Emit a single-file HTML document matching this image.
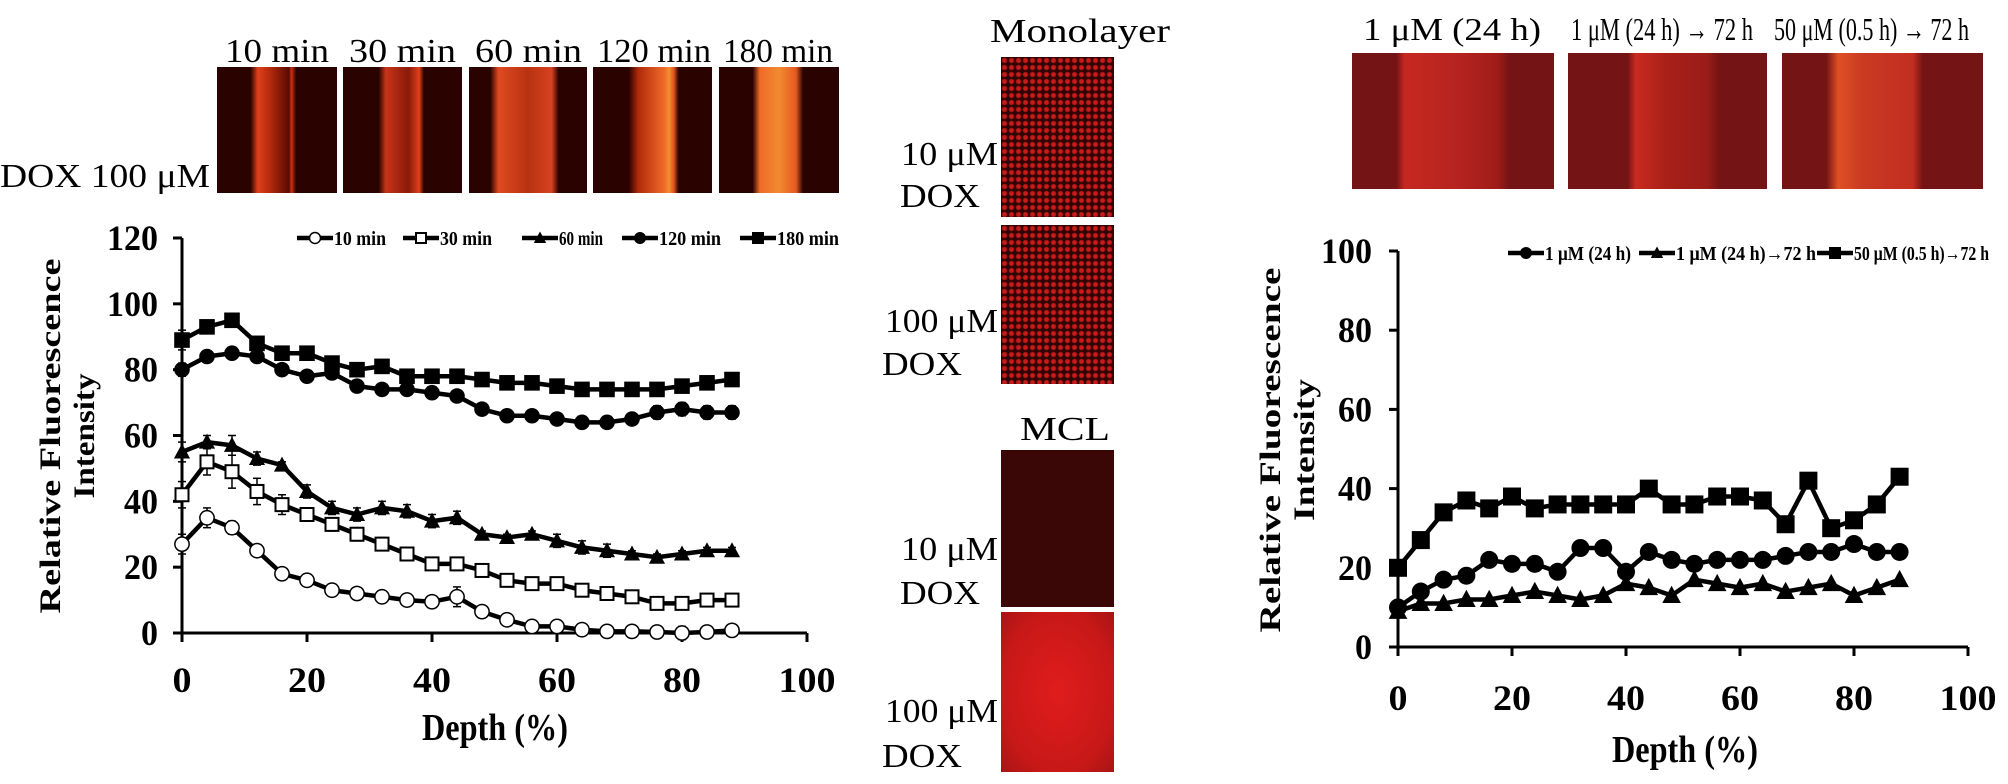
<!DOCTYPE html>
<html><head><meta charset="utf-8"><style>
html,body{margin:0;padding:0;background:#fff;}
#root{position:relative;width:2008px;height:784px;overflow:hidden;background:#fff;}
.img{position:absolute;}
</style></head><body>
<div id="root">
<div class="img" style="left:217px;top:67px;width:120px;height:126px;background:linear-gradient(90deg,#2a0300 0,#2a0300 28%,#e0401a 34%,#b0280c 45%,#5a0a02 60%,#d03010 62%,#2a0300 66%,#2a0300 100%)"></div>
<div class="img" style="left:343px;top:67px;width:119px;height:126px;background:linear-gradient(90deg,#2a0300 0,#2a0300 30%,#c8341a 36%,#8a1a08 55%,#e0401a 64%,#2a0300 68%,#2a0300 100%)"></div>
<div class="img" style="left:469px;top:67px;width:118px;height:126px;background:linear-gradient(90deg,#2a0300 0,#2a0300 18%,#e04a20 25%,#b83210 50%,#d84220 70%,#2a0300 76%,#2a0300 100%)"></div>
<div class="img" style="left:593px;top:67px;width:119px;height:126px;background:linear-gradient(90deg,#2a0300 0,#2a0300 30%,#b02a0c 38%,#f06a28 60%,#f09030 64%,#e05020 68%,#2a0300 72%,#2a0300 100%)"></div>
<div class="img" style="left:719px;top:67px;width:120px;height:126px;background:linear-gradient(90deg,#2a0300 0,#2a0300 28%,#f06a28 34%,#f08a30 50%,#e85a20 64%,#2a0300 70%,#2a0300 100%)"></div>
<div class="img" style="left:1001px;top:57px;width:113px;height:160px;background:radial-gradient(circle,#d02020 0,#c01818 40%,#300404 62%) 0 0/7px 7px,#300404"></div>
<div class="img" style="left:1001px;top:225px;width:113px;height:159px;background:radial-gradient(circle,#d02020 0,#c01818 40%,#300404 62%) 0 0/7px 7px,#300404"></div>
<div class="img" style="left:1001px;top:450px;width:113px;height:157px;background:#3a0606"></div>
<div class="img" style="left:1001px;top:612px;width:113px;height:160px;background:radial-gradient(ellipse at 50% 50%,#e01c1c 0,#c81818 70%,#a81414 100%)"></div>
<div class="img" style="left:1352px;top:53px;width:202px;height:136px;background:linear-gradient(90deg,#741414 0,#741414 22%,#c62820 26%,#b82420 50%,#a01c18 72%,#741414 78%,#741414 100%)"></div>
<div class="img" style="left:1568px;top:53px;width:199px;height:136px;background:linear-gradient(90deg,#741414 0,#741414 30%,#c82a20 34%,#a82018 50%,#9a1c18 70%,#741414 76%,#741414 100%)"></div>
<div class="img" style="left:1782px;top:53px;width:201px;height:136px;background:linear-gradient(90deg,#741414 0,#741414 22%,#e05024 28%,#c83a22 40%,#c42e20 65%,#741414 70%,#741414 100%)"></div>

<svg id="svg" width="2008" height="784" style="position:absolute;left:0;top:0" xmlns="http://www.w3.org/2000/svg" font-family="'Liberation Serif', serif">
<g font-size="34">
<text x="225" y="62" textLength="104" lengthAdjust="spacingAndGlyphs">10 min</text>
<text x="349" y="62" textLength="107" lengthAdjust="spacingAndGlyphs">30 min</text>
<text x="475" y="62" textLength="107" lengthAdjust="spacingAndGlyphs">60 min</text>
<text x="597" y="62" textLength="114" lengthAdjust="spacingAndGlyphs">120 min</text>
<text x="723" y="62" textLength="110" lengthAdjust="spacingAndGlyphs">180 min</text>
<text x="0" y="187" textLength="210" lengthAdjust="spacingAndGlyphs">DOX 100 μM</text>
</g>
<g font-size="34">
<text x="990" y="42" textLength="180" lengthAdjust="spacingAndGlyphs">Monolayer</text>
<text x="1020" y="440" textLength="90" lengthAdjust="spacingAndGlyphs">MCL</text>
<text x="901" y="165" textLength="97" lengthAdjust="spacingAndGlyphs">10 μM</text>
<text x="900" y="207" textLength="80" lengthAdjust="spacingAndGlyphs">DOX</text>
<text x="885" y="332" textLength="113" lengthAdjust="spacingAndGlyphs">100 μM</text>
<text x="882" y="375" textLength="80" lengthAdjust="spacingAndGlyphs">DOX</text>
<text x="901" y="560" textLength="97" lengthAdjust="spacingAndGlyphs">10 μM</text>
<text x="900" y="604" textLength="80" lengthAdjust="spacingAndGlyphs">DOX</text>
<text x="885" y="722" textLength="113" lengthAdjust="spacingAndGlyphs">100 μM</text>
<text x="882" y="767" textLength="80" lengthAdjust="spacingAndGlyphs">DOX</text>
</g>
<g font-size="32">
<text x="1363" y="40" textLength="178" lengthAdjust="spacingAndGlyphs">1 μM (24 h)</text>
<text x="1571" y="40" textLength="182" lengthAdjust="spacingAndGlyphs">1 μM (24 h) → 72 h</text>
<text x="1774" y="40" textLength="195" lengthAdjust="spacingAndGlyphs">50 μM (0.5 h) → 72 h</text>
</g>
<g id="chartL"></g>
<g id="chartR"></g>
</svg>
</div>
<script>
const depth=[0,4,8,12,16,20,24,28,32,36,40,44,48,52,56,60,64,68,72,76,80,84,88];
const leftNames=['10 min','30 min','60 min','120 min','180 min'];
const min10=[27,35,32,25,18,16,13,12,11,10,9.5,11,6.5,4,2,2,1,0.5,0.5,0.3,0,0.3,0.8];
const min30=[42,52,49,43,39,36,33,30,27,24,21,21,19,16,15,15,13,12,11,9,9,10,10];
const min60=[55,58,57,53,51,43,38,36,38,37,34,35,30,29,30,28,26,25,24,23,24,25,25];
const min120=[80,84,85,84,80,78,79,75,74,74,73,72,68,66,66,65,64,64,65,67,68,67,67];
const min180=[89,93,95,88,85,85,82,80,81,78,78,78,77,76,76,75,74,74,74,74,75,76,77];
const err10=[3,3,2,1,1,1,1,1,1,1,1,3,1,1,1,1,1,1,1,1,2,1,1];
const err30=[4,4,5,4,3,2,2,2,2,1,1,2,1,1,1,1,1,1,1,1,1,1,1];
const err60=[3,2,3,2,1,2,2,2,2,2,2,2,1,1,1,2,2,2,1,1,1,1,1];
const err120=[2,1,1,1,1,1,1,1,1,1,1,1,1,1,1,1,1,1,1,2,2,2,2];
const err180=[3,1,1,1,1,1,1,1,1,1,1,1,1,1,1,1,1,1,1,1,1,1,1];
const leftYTicks=[0,20,40,60,80,100,120];
const xTicks=[0,20,40,60,80,100];
const rightNames=['1 μM (24 h)','1 μM (24 h)→72 h','50 μM (0.5 h)→72 h'];
const r24=[10,14,17,18,22,21,21,19,25,25,19,24,22,21,22,22,22,23,24,24,26,24,24];
const r72=[9,11,11,12,12,13,14,13,12,13,16,15,13,17,16,15,16,14,15,16,13,15,17];
const r50=[20,27,34,37,35,38,35,36,36,36,36,40,36,36,38,38,37,31,42,30,32,36,43];
const rightYTicks=[0,20,40,60,80,100];

const NS='http://www.w3.org/2000/svg';
function mk(parent,tag,attrs){const e=document.createElementNS(NS,tag);for(const k in attrs)e.setAttribute(k,attrs[k]);parent.appendChild(e);return e;}
function marker(g,type,x,y,s){
  let e;
  if(type==='circle-open'){e=mk(g,'circle',{cx:x,cy:y,r:s*0.55,fill:'#fff',stroke:'#000','stroke-width':1.5});}
  else if(type==='square-open'){e=mk(g,'rect',{x:x-s/2,y:y-s/2,width:s,height:s,fill:'#fff',stroke:'#000','stroke-width':2});}
  else if(type==='triangle'){e=mk(g,'polygon',{points:`${x},${y-s*0.65} ${x-s*0.62},${y+s*0.5} ${x+s*0.62},${y+s*0.5}`,fill:'#000'});}
  else if(type==='diamond'){e=mk(g,'circle',{cx:x,cy:y,r:s*0.6,fill:'#000'});}
  else {e=mk(g,'rect',{x:x-s*0.6,y:y-s*0.6,width:s*1.2,height:s*1.2,fill:'#000'});}
  return e;
}
function drawChart(root,cfg){
  const X=v=>cfg.x0+(cfg.x1-cfg.x0)*v/100;
  const Y=v=>cfg.y0-(cfg.y0-cfg.y1)*v/cfg.ymax;
  const ax=mk(root,'g',{});
  
  
  mk(ax,'line',{x1:X(0),y1:Y(0),x2:X(0),y2:Y(cfg.ymax),stroke:'#000','stroke-width':3});
  mk(ax,'line',{x1:X(0),y1:Y(0),x2:X(100),y2:Y(0),stroke:'#000','stroke-width':3});
  cfg.yTicks.forEach(t=>{
    mk(ax,'line',{x1:X(0)-9,y1:Y(t),x2:X(0),y2:Y(t),stroke:'#000','stroke-width':3});
    const tx=mk(ax,'text',{x:cfg.ylabRight-String(t).length*17,y:Y(t)+12,'font-size':36,'font-weight':'bold',textLength:String(t).length*17,lengthAdjust:'spacingAndGlyphs'});
    tx.textContent=t;
    
    
  });
  xTicks.forEach(t=>{
    mk(ax,'line',{x1:X(t),y1:Y(0),x2:X(t),y2:Y(0)+9,stroke:'#000','stroke-width':3});
    const tx=mk(ax,'text',{x:X(t)-String(t).length*9.5,y:cfg.xlabY,'font-size':36,'font-weight':'bold',textLength:String(t).length*19,lengthAdjust:'spacingAndGlyphs'});
    tx.textContent=t;
    
    
  });
  const xt=mk(ax,'text',{x:cfg.xtitleX-73,y:cfg.xtitleY,'font-size':38,'font-weight':'bold',textLength:146,lengthAdjust:'spacingAndGlyphs'});
  xt.textContent='Depth (%)';
  
  
  const yt=mk(ax,'text',{transform:`translate(${cfg.yt1x},${cfg.ytCy+cfg.yt1len/2}) rotate(-90)`,'font-size':30,'font-weight':'bold',textLength:cfg.yt1len,lengthAdjust:'spacingAndGlyphs'});
  yt.textContent='Relative Fluorescence';
  
  
  const yt2=mk(ax,'text',{transform:`translate(${cfg.yt2x},${cfg.ytCy+cfg.yt2len/2}) rotate(-90)`,'font-size':30,'font-weight':'bold',textLength:cfg.yt2len,lengthAdjust:'spacingAndGlyphs'});
  yt2.textContent='Intensity';
  
  
  cfg.series.forEach((s,si)=>{
    const g=mk(root,'g',{});
    
    
    const pts=depth.map((d,i)=>X(d)+','+Y(s.vals[i])).join(' ');
    mk(g,'polyline',{points:pts,fill:'none',stroke:'#000','stroke-width':4.5,'stroke-linejoin':'round'});
    depth.forEach((d,i)=>{
      if(s.err){const e=s.err[i];
        mk(g,'line',{x1:X(d),y1:Y(s.vals[i]-e),x2:X(d),y2:Y(s.vals[i]+e),stroke:'#000','stroke-width':1.5});
        mk(g,'line',{x1:X(d)-4,y1:Y(s.vals[i]+e),x2:X(d)+4,y2:Y(s.vals[i]+e),stroke:'#000','stroke-width':1.5});
        mk(g,'line',{x1:X(d)-4,y1:Y(s.vals[i]-e),x2:X(d)+4,y2:Y(s.vals[i]-e),stroke:'#000','stroke-width':1.5});}
      const m=marker(g,s.marker,X(d),Y(s.vals[i]),cfg.ms);
      
      
    });
    const lg=mk(root,'g',{});
    
    
    const lx=cfg.legX[si], ly=cfg.legY;
    mk(lg,'line',{x1:lx,y1:ly,x2:lx+36,y2:ly,stroke:'#000','stroke-width':4.5});
    marker(lg,s.marker,lx+18,ly,10);
    const lt=mk(lg,'text',{x:lx+37,y:ly+7,'font-size':20,'font-weight':'bold',textLength:cfg.legW[si],lengthAdjust:'spacingAndGlyphs'});
    lt.textContent=s.name;
  });
}
drawChart(document.getElementById('chartL'),{x0:182,x1:807,y0:633,y1:238,ymax:120,yTicks:leftYTicks,ylabRight:158,xlabY:692,
  xtitleX:495,xtitleY:740,yt1x:60,yt2x:94,ytCy:436,yt1len:355,yt2len:125,ms:13,legY:238,
  legX:[297,403,522,622,740],legW:[52,52,44,62,62],
  series:[{id:'10min',name:leftNames[0],vals:min10,err:err10,marker:'circle-open'},
          {id:'30min',name:leftNames[1],vals:min30,err:err30,marker:'square-open'},
          {id:'60min',name:leftNames[2],vals:min60,err:err60,marker:'triangle'},
          {id:'120min',name:leftNames[3],vals:min120,err:err120,marker:'diamond'},
          {id:'180min',name:leftNames[4],vals:min180,err:err180,marker:'square'}]});
drawChart(document.getElementById('chartR'),{x0:1398,x1:1968,y0:647,y1:251,ymax:100,yTicks:rightYTicks,ylabRight:1372,xlabY:710,
  xtitleX:1685,xtitleY:762,yt1x:1280,yt2x:1314,ytCy:450,yt1len:365,yt2len:142,ms:15,legY:253,
  legX:[1508,1639,1817],legW:[86,140,135],
  series:[{id:'1uM-24h',name:rightNames[0],vals:r24,marker:'diamond'},
          {id:'1uM-72h',name:rightNames[1],vals:r72,marker:'triangle'},
          {id:'50uM-72h',name:rightNames[2],vals:r50,marker:'square'}]});
</script>
</body></html>
